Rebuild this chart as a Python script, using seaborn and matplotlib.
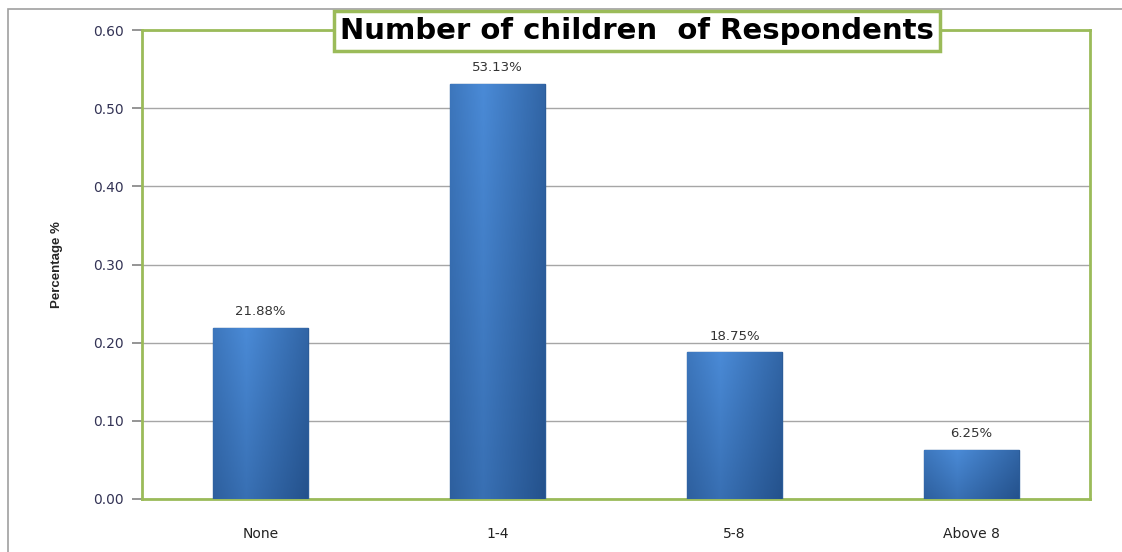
import numpy as np
import pandas as pd
import matplotlib
matplotlib.use("Agg")
import matplotlib.pyplot as plt
import seaborn as sns
from matplotlib.patches import Rectangle

sns.set_theme(style="white")
plt.rcParams['font.family'] = ['DejaVu Sans']

categories = ["None", "1-4", "5-8", "Above 8"]
shares = [0.2188, 0.5313, 0.1875, 0.0625]
bar_labels = ["21.88%", "53.13%", "18.75%", "6.25%"]
yticks = [0.0, 0.1, 0.2, 0.3, 0.4, 0.5, 0.6]

df = pd.DataFrame({"children": categories, "share": shares})

green = "#9bbb59"
grid_grey = "#a6a6a6"
tick_col = "#333355"

fig = plt.figure(figsize=(11.22, 5.52), dpi=100)
ax = fig.add_axes([142 / 1122, 1 - 499 / 552, 948 / 1122, 469 / 552])

# outer frame of the chart area
fig.patches.append(Rectangle((8 / 1122, -0.1), 1.2, 1 - 9 / 552 + 0.1,
                             transform=fig.transFigure, fill=False,
                             edgecolor="#a0a0a0", lw=1.2, zorder=0))

sns.barplot(data=df, x="children", y="share", color="#3c78c4", width=0.4,
            edgecolor="#2b5c99", linewidth=1.0, ax=ax, zorder=3)

# gradient shading inside each bar
grad = np.linspace(0, 1, 64)
shade = np.outer(np.linspace(1.0, 0.82, 32), 1 - 0.25 * np.abs(grad - 0.35) / 0.65)
cmap = matplotlib.colors.LinearSegmentedColormap.from_list("b", ["#23508a", "#4a8ad6"])
for p in ax.patches:
    x0, y0, w, h = p.get_x(), p.get_y(), p.get_width(), p.get_height()
    im = ax.imshow(shade, cmap=cmap, vmin=0.6, vmax=1.0, aspect="auto",
                   extent=[x0, x0 + w, y0, y0 + h], origin="upper", zorder=3.5)
    im.set_clip_path(p)

for p, lab in zip(ax.patches, bar_labels):
    ax.annotate(lab, (p.get_x() + p.get_width() / 2, p.get_height()),
                xytext=(0, 7), textcoords="offset points", ha="center",
                va="bottom", fontsize=9.5, color="#333333")

ax.set_xlim(-0.5, len(categories) - 0.5)
ax.set_ylim(0, 0.6)
ax.set_yticks(yticks)
ax.set_yticklabels([f"{t:.2f}" for t in yticks], fontsize=10, color=tick_col)
ax.yaxis.grid(True, color=grid_grey, lw=1.0)
ax.set_axisbelow(True)

ax.set_xticks(range(len(categories)))
ax.set_xticklabels(categories, fontsize=10, color="#222222")
ax.tick_params(axis="x", length=0, pad=20)
ax.set_xticks(np.arange(-0.5, len(categories) + 0.5, 1), minor=True)
ax.tick_params(axis="x", which="minor", length=6, color="#888888", direction="out")
ax.tick_params(axis="y", length=7, color="#888888", direction="out", left=True, pad=6)

for s in ax.spines.values():
    s.set_visible(True)
    s.set_color(green)
    s.set_linewidth(2)

ax.set_xlabel("")
ax.set_ylabel("Percentage %", fontsize=9.5, fontweight="bold",
              family=["Liberation Sans", "DejaVu Sans"], labelpad=22)

fig.text(637 / 1122, 1 - 31 / 552, "Number of children  of Respondents",
         ha="center", va="center", fontsize=21, fontweight="bold", color="black",
         family=["DejaVu Sans"],
         bbox=dict(boxstyle="square,pad=0.2", facecolor="white",
                   edgecolor=green, lw=2.5))

fig.savefig("out.png", dpi=100)
